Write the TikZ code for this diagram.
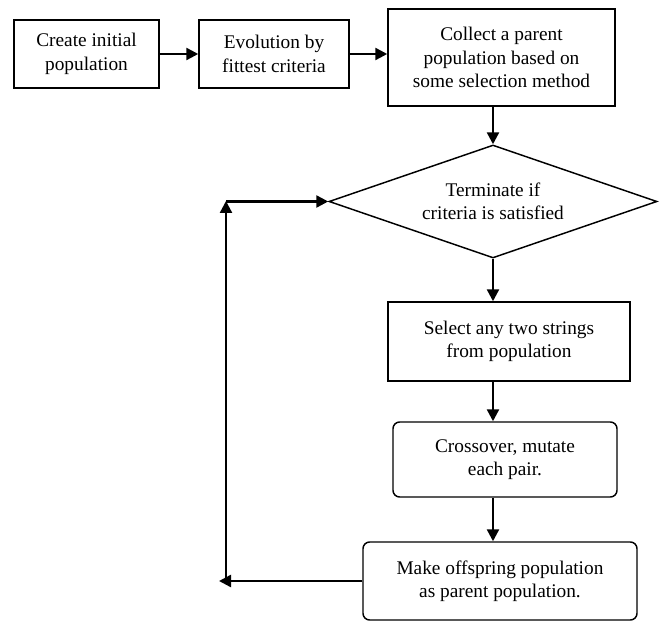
\documentclass[tikz,border=0pt]{standalone}
\usepackage{fontspec}
\setmainfont{Liberation Serif}
\usetikzlibrary{shapes.geometric,arrows.meta}
\tikzset{
	box/.style={draw, line width=1.1pt, align=center, inner sep=2pt, font=\fontsize{14.5}{17.5}\selectfont},
	rbox/.style={box, rounded corners=5pt},
	decision/.style={box, diamond, shape aspect=2.9},
	arr/.style={line width=1.8pt, -{Triangle[length=9pt,width=9pt]}}
}
\begin{document}
\begin{tikzpicture}[x=0.75pt, y=-0.75pt]
		\useasboundingbox (0,0) rectangle (662,623);
		\node[box, minimum width=108.75pt, minimum height=51pt] (create) at (86.5,54) {Create initial\\population};
		\node[box, minimum width=112.5pt, minimum height=51pt] (evol) at (274,54) {Evolution by\\fittest criteria};
		\node[box, minimum width=170.25pt, minimum height=72.75pt] (collect) at (501.5,57.5) {Collect a parent\\population based on\\some selection method};
		\node[decision, minimum width=246pt, minimum height=84.75pt] (term) at (493,201.5) {Terminate if\\criteria is satisfied};
		\node[box, minimum width=181.5pt, minimum height=59.25pt] (select) at (509,341.5) {Select any two strings\\from population};
		\node[rbox, minimum width=168pt, minimum height=56.25pt] (cross) at (505,459.5) {Crossover, mutate\\each pair.};
		\node[rbox, minimum width=205.5pt, minimum height=58.5pt] (offspr) at (500,581) {Make offspring population\\as parent population.};
		\coordinate (loopend) at (219,581);
		\coordinate (looptop) at (226,201);
		\draw[arr] (create) -- (evol);
		\draw[arr] (evol.east) -- (evol.east -| collect.west);
		\draw[arr] (collect.south -| term) -- (term.north);
		\draw[arr] (term.south) -- (select.north -| term);
		\draw[arr] (select.south -| term) -- (cross.north -| term);
		\draw[arr] (cross.south -| term) -- (offspr.north -| term);
		\draw[arr] (offspr.west) -- (loopend);
		\draw[arr] (looptop |- offspr.west) -- (looptop);
		\draw[arr] (looptop |- term.west) -- (term.west);
	\end{tikzpicture}
\end{document}
